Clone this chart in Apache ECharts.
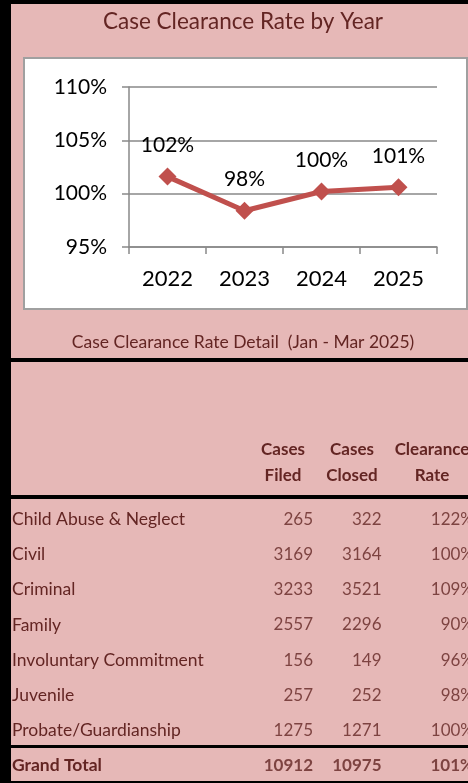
<!DOCTYPE html>
<html>
<head>
<meta charset="utf-8">
<script src="https://cdn.jsdelivr.net/npm/echarts@6/dist/echarts.min.js"></script>
<style>
    html, body { margin: 0; padding: 0; background: #E6B8B7; }
    #main { width: 468px; height: 783px; }
</style>
</head>
<body>
<div id="main"></div>
<script>
// line chart data
var years = ['2022', '2023', '2024', '2025'];
var yearRates = [101.6, 98.4, 100.2, 100.6];
var rateAxis = { min: 95, max: 110, step: 5 };

// detail table data
var caseTypes = ['Child Abuse & Neglect', 'Civil', 'Criminal', 'Family',
    'Involuntary Commitment', 'Juvenile', 'Probate/Guardianship', 'Grand Total'];
var casesFiled = [265, 3169, 3233, 2557, 156, 257, 1275, 10912];
var casesClosed = [322, 3164, 3521, 2296, 149, 252, 1271, 10975];
var clearanceRate = [122, 100, 109, 90, 96, 98, 100, 101];
var headTop = ['Cases', 'Cases', 'Clearance'];
var headBottom = ['Filed', 'Closed', 'Rate'];

var FONT = 'Lato';
var DARK = '#632523';
var GRAY = '#898989';

var chart = echarts.init(document.getElementById('main'));

var lastRow = caseTypes.length - 1;

// one scatter series per table column, labels only
var column_series = function (values, col, fmt, dx) {
    return {
        type: 'scatter',
        xAxisIndex: 1,
        yAxisIndex: 1,
        symbolSize: 1,
        itemStyle: { color: 'transparent' },
        silent: true,
        data: values.map(function (v, i) {
            return {
                value: [col, i, v],
                label: { fontWeight: i === lastRow ? 'bold' : 'normal' }
            };
        }),
        label: {
            show: true,
            position: 'inside',
            align: 'right',
            offset: [dx, 0],
            fontFamily: FONT,
            fontSize: 17,
            color: DARK,
            formatter: function (p) { return fmt(p.value[2]); }
        }
    };
};

var graphics = [
    // white chart box
    { type: 'rect', z: -1, shape: { x: 24, y: 58, width: 443, height: 251 },
      style: { fill: '#fff', stroke: '#A0A0A0', lineWidth: 2 } },
    { type: 'text', x: 243, y: 22,
      style: { text: 'Case Clearance Rate by Year', fill: DARK, font: '22.5px ' + FONT,
               textAlign: 'center', textVerticalAlign: 'middle' } },
    { type: 'text', x: 243, y: 342,
      style: { text: 'Case Clearance Rate Detail  (Jan - Mar 2025)', fill: DARK, font: '17.5px ' + FONT,
               textAlign: 'center', textVerticalAlign: 'middle' } },
    // black borders
    { type: 'rect', z: 100, shape: { x: 0, y: 0, width: 11, height: 783 }, style: { fill: '#000' } },
    { type: 'rect', z: 100, shape: { x: 0, y: 0, width: 468, height: 4 }, style: { fill: '#000' } },
    { type: 'rect', z: 100, shape: { x: 0, y: 358, width: 468, height: 4 }, style: { fill: '#000' } },
    { type: 'rect', z: 100, shape: { x: 0, y: 495, width: 468, height: 4 }, style: { fill: '#000' } },
    { type: 'rect', z: 100, shape: { x: 0, y: 745, width: 468, height: 3 }, style: { fill: '#000' } },
    { type: 'rect', z: 100, shape: { x: 0, y: 781, width: 468, height: 2 }, style: { fill: '#000' } }
];

// table header
var headX = [283, 352, 432];
for (var i = 0; i < headTop.length; i++) {
    graphics.push({ type: 'text', x: headX[i], y: 450,
        style: { text: headTop[i], fill: DARK, font: 'bold 17px ' + FONT,
                 textAlign: 'center', textVerticalAlign: 'middle' } });
    graphics.push({ type: 'text', x: headX[i], y: 476,
        style: { text: headBottom[i], fill: DARK, font: 'bold 17px ' + FONT,
                 textAlign: 'center', textVerticalAlign: 'middle' } });
}

var option = {
    backgroundColor: '#E6B8B7',
    animation: false,
    graphic: { elements: graphics },
    grid: [
        { left: 129, right: 31, top: 87, bottom: 536 },
        { left: 313, right: 0, top: 502, height: 284 }
    ],
    xAxis: [
        {
            gridIndex: 0,
            type: 'category',
            data: years,
            boundaryGap: true,
            axisLine: { lineStyle: { color: GRAY, width: 1.5 } },
            axisTick: { show: true, length: 7, lineStyle: { color: GRAY, width: 1.5 } },
            axisLabel: { margin: 21, fontFamily: FONT, fontSize: 22, color: '#000' }
        },
        {
            gridIndex: 1,
            type: 'category',
            data: [0, 1, 2],
            boundaryGap: false,
            show: false
        }
    ],
    yAxis: [
        {
            gridIndex: 0,
            type: 'value',
            min: rateAxis.min,
            max: rateAxis.max,
            interval: rateAxis.step,
            axisLine: { show: true, lineStyle: { color: GRAY, width: 1.5 } },
            axisTick: { show: true, length: 7, lineStyle: { color: GRAY, width: 1.5 } },
            splitLine: { lineStyle: { color: GRAY, width: 1.5 } },
            axisLabel: { formatter: '{value}%', margin: 22, fontFamily: FONT, fontSize: 21, color: '#000' }
        },
        {
            gridIndex: 1,
            type: 'category',
            data: caseTypes,
            inverse: true,
            offset: 301,
            axisLine: { show: false },
            axisTick: { show: false },
            splitLine: { show: false },
            axisLabel: {
                interval: 0,
                align: 'left',
                margin: 0,
                fontFamily: FONT,
                fontSize: 17.5,
                color: DARK,
                formatter: function (v) {
                    return v === 'Grand Total' ? '{b|' + v + '}' : v;
                },
                rich: {
                    b: { fontFamily: FONT, fontSize: 17.5, fontWeight: 'bold', color: DARK }
                }
            }
        }
    ],
    series: [
        {
            type: 'line',
            xAxisIndex: 0,
            yAxisIndex: 0,
            data: yearRates,
            symbol: 'diamond',
            symbolSize: 18,
            lineStyle: { color: '#C0504D', width: 5 },
            itemStyle: { color: '#C0504D' },
            label: {
                show: true,
                position: 'top',
                distance: 12,
                fontFamily: FONT,
                fontSize: 21,
                color: '#000',
                formatter: function (p) { return Math.round(p.value) + '%'; }
            }
        },
        column_series(casesFiled, 0, function (v) { return v; }, 0),
        column_series(casesClosed, 1, function (v) { return v; }, -9),
        column_series(clearanceRate, 2, function (v) { return v + '%'; }, 6)
    ]
};

chart.setOption(option);
</script>
</body>
</html>
